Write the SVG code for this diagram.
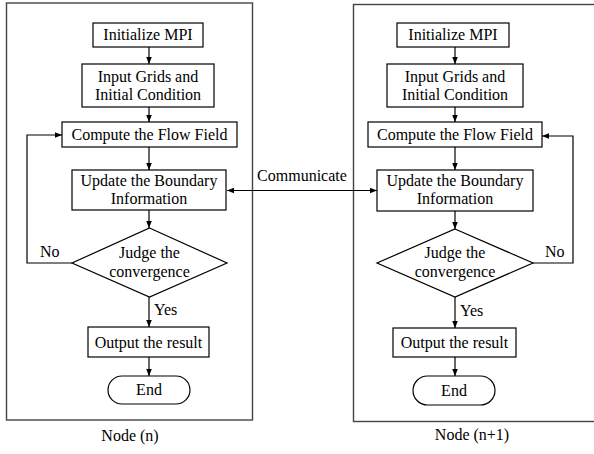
<svg xmlns="http://www.w3.org/2000/svg" width="594" height="454" viewBox="0 0 594 454">
<defs>
<marker id="ah" viewBox="0 0 10 10" refX="10" refY="5" markerWidth="7" markerHeight="7" markerUnits="userSpaceOnUse" orient="auto-start-reverse">
<path d="M0,1 L10,5 L0,9 Z" fill="#000"/>
</marker>
<style>
.frame{fill:none;stroke:#444;stroke-width:1.4}
.box{fill:#fff;stroke:#000;stroke-width:1.2}
.t{font-family:"Liberation Serif","Times New Roman",serif;font-size:16px;fill:#000;text-anchor:middle}
.l{font-family:"Liberation Serif","Times New Roman",serif;font-size:16px;fill:#000}
.c{fill:none;stroke:#000;stroke-width:1.2}
</style>
</defs>
<rect class="frame" x="6.5" y="3" width="246" height="417"/>
<rect class="frame" x="353.5" y="4.5" width="260" height="417"/>
<g id="connectors">
<line class="c" x1="149" y1="47" x2="149" y2="64" marker-end="url(#ah)"/>
<line class="c" x1="149" y1="107" x2="149" y2="122" marker-end="url(#ah)"/>
<line class="c" x1="149" y1="147" x2="149" y2="170" marker-end="url(#ah)"/>
<line class="c" x1="149" y1="210" x2="149" y2="228" marker-end="url(#ah)"/>
<line class="c" x1="149" y1="297" x2="149" y2="327" marker-end="url(#ah)"/>
<line class="c" x1="149" y1="357" x2="149" y2="376" marker-end="url(#ah)"/>
<polyline class="c" points="72,263 27,263 27,135 62,135" marker-end="url(#ah)"/>
<line class="c" x1="455" y1="47" x2="455" y2="64" marker-end="url(#ah)"/>
<line class="c" x1="455" y1="107" x2="455" y2="122" marker-end="url(#ah)"/>
<line class="c" x1="455" y1="147" x2="455" y2="170" marker-end="url(#ah)"/>
<line class="c" x1="455" y1="211" x2="455" y2="229" marker-end="url(#ah)"/>
<line class="c" x1="455" y1="297" x2="455" y2="328" marker-end="url(#ah)"/>
<line class="c" x1="455" y1="357" x2="455" y2="376" marker-end="url(#ah)"/>
<polyline class="c" points="533,263 573,263 573,136 542,136" marker-end="url(#ah)"/>
<line class="c" x1="227" y1="190.5" x2="377" y2="190.5" marker-start="url(#ah)" marker-end="url(#ah)"/>
<text class="t" x="302" y="181">Communicate</text>
<text class="l" x="40" y="257">No</text>
<text class="l" x="154" y="315">Yes</text>
<text class="l" x="545" y="257">No</text>
<text class="l" x="460" y="316">Yes</text>
</g>
<g id="n-init"><rect class="box" x="93" y="23" width="110" height="24"/><text class="t" x="148" y="40">Initialize MPI</text></g>
<g id="n-input"><rect class="box" x="82" y="64" width="132" height="43"/><text class="t" x="148" y="82">Input Grids and</text><text class="t" x="148" y="100">Initial Condition</text></g>
<g id="n-compute"><rect class="box" x="62" y="122" width="175" height="25"/><text class="t" x="149.5" y="140">Compute the Flow Field</text></g>
<g id="n-update"><rect class="box" x="72" y="170" width="154" height="40"/><text class="t" x="149" y="186">Update the Boundary</text><text class="t" x="149" y="204">Information</text></g>
<g id="n-judge"><polygon class="box" points="149.5,228 227,263 149.5,297 72,263"/><text class="t" x="149.5" y="258">Judge the</text><text class="t" x="149.5" y="277">convergence</text></g>
<g id="n-output"><rect class="box" x="88" y="327" width="121" height="30"/><text class="t" x="148.5" y="348">Output the result</text></g>
<g id="n-end"><rect class="box" x="108" y="376" width="82" height="28" rx="14"/><text class="t" x="149" y="395">End</text></g>
<text class="t" x="130" y="441">Node (n)</text>
<g id="m-init"><rect class="box" x="397" y="23" width="112" height="24"/><text class="t" x="453" y="40">Initialize MPI</text></g>
<g id="m-input"><rect class="box" x="387" y="64" width="136" height="43"/><text class="t" x="455" y="82">Input Grids and</text><text class="t" x="455" y="100">Initial Condition</text></g>
<g id="m-compute"><rect class="box" x="368" y="122" width="174" height="25"/><text class="t" x="455" y="140">Compute the Flow Field</text></g>
<g id="m-update"><rect class="box" x="377" y="170" width="156" height="41"/><text class="t" x="455" y="186">Update the Boundary</text><text class="t" x="455" y="204">Information</text></g>
<g id="m-judge"><polygon class="box" points="455,229 533,263 455,297 377,263"/><text class="t" x="455" y="258">Judge the</text><text class="t" x="455" y="277">convergence</text></g>
<g id="m-output"><rect class="box" x="393" y="328" width="123" height="29"/><text class="t" x="454.5" y="348">Output the result</text></g>
<g id="m-end"><rect class="box" x="413" y="376" width="82" height="29" rx="14.5"/><text class="t" x="454" y="396">End</text></g>
<text class="t" x="472" y="440">Node (n+1)</text>
</svg>
